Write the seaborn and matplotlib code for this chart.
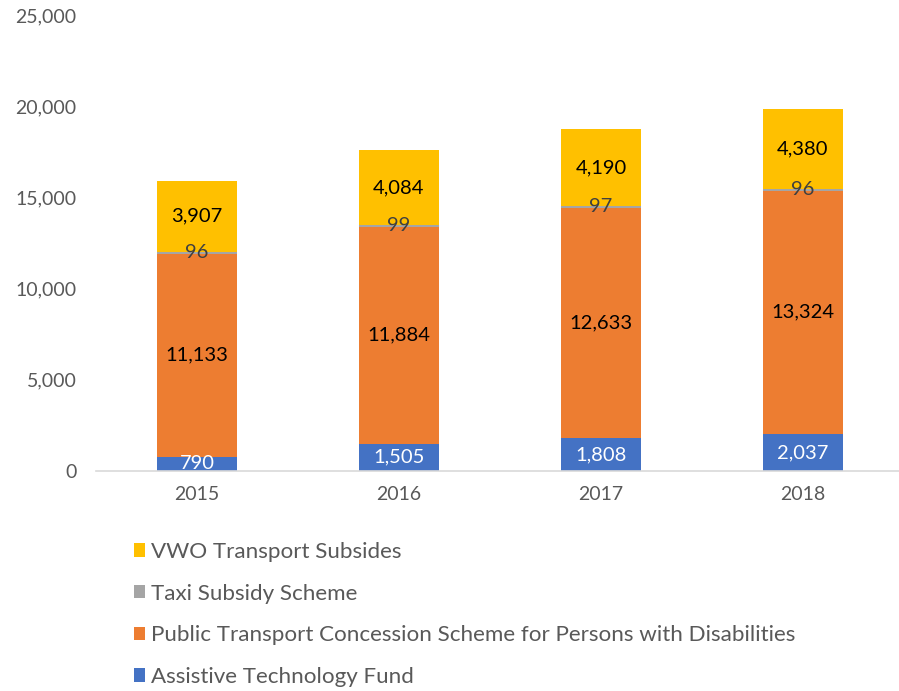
import matplotlib
matplotlib.use("Agg")
import matplotlib.pyplot as plt
import numpy as np
import pandas as pd
import seaborn as sns
from matplotlib.patches import Patch

# data
years = ["2015", "2016", "2017", "2018"]
assistive = [790, 1505, 1808, 2037]
public_transport = [11133, 11884, 12633, 13324]
taxi = [96, 99, 97, 96]
vwo = [3907, 4084, 4190, 4380]

series = ["Assistive Technology Fund",
          "Public Transport Concession Scheme for Persons with Disabilities",
          "Taxi Subsidy Scheme",
          "VWO Transport Subsides"]
colors = ["#4472C4", "#ED7D31", "#A5A5A5", "#FFC000"]
label_colors = ["white", "black", "#404040", "black"]

df = pd.DataFrame({"year": years, series[0]: assistive, series[1]: public_transport,
                   series[2]: taxi, series[3]: vwo})

sns.set_style("white")
plt.rcParams["font.family"] = ["Lato", "DejaVu Sans"]

fig = plt.figure(figsize=(8.99, 6.91), dpi=100)
ax = fig.add_axes([96 / 899, 1 - 471 / 691, 808 / 899, (471 - 15) / 691])

# stacked bars: draw cumulative totals from the top layer down
cum = df[series].cumsum(axis=1)
for i in range(len(series) - 1, -1, -1):
    sns.barplot(x=df["year"], y=cum[series[i]], color=colors[i], width=0.4,
                saturation=1, linewidth=0, ax=ax)

# data labels in the middle of each segment
for i, s in enumerate(series):
    bottoms = cum[s] - df[s]
    for j in range(len(years)):
        ax.text(j, bottoms[j] + df[s][j] / 2, f"{df[s][j]:,}", ha="center", va="center",
                fontsize=14.5, color=label_colors[i], clip_on=True)

ax.set_ylim(0, 25000)
ax.set_xlim(-0.5, 3.5)
ax.set_yticks(range(0, 25001, 5000))
ax.set_yticklabels([f"{v:,}" for v in range(0, 25001, 5000)])
ax.set_xlabel("")
ax.set_ylabel("")
ax.tick_params(axis="both", length=0, labelsize=14, colors="#595959")
ax.tick_params(axis="y", pad=14)
ax.tick_params(axis="x", pad=11)
for sp in ["top", "right", "left"]:
    ax.spines[sp].set_visible(False)
ax.spines["bottom"].set_color("#D9D9D9")
ax.spines["bottom"].set_linewidth(1.2)
ax.grid(False)

handles = [Patch(facecolor=colors[i], edgecolor="none", label=series[i]) for i in range(3, -1, -1)]
leg = fig.legend(handles=handles, loc="upper left", bbox_to_anchor=(125 / 899, 1 - 533 / 691),
                 frameon=False, fontsize=16.1, handlelength=0.5, handleheight=0.55,
                 handletextpad=0.25, labelspacing=0.97, borderaxespad=0)
for t in leg.get_texts():
    t.set_color("#595959")

fig.savefig("out.png", dpi=100)
